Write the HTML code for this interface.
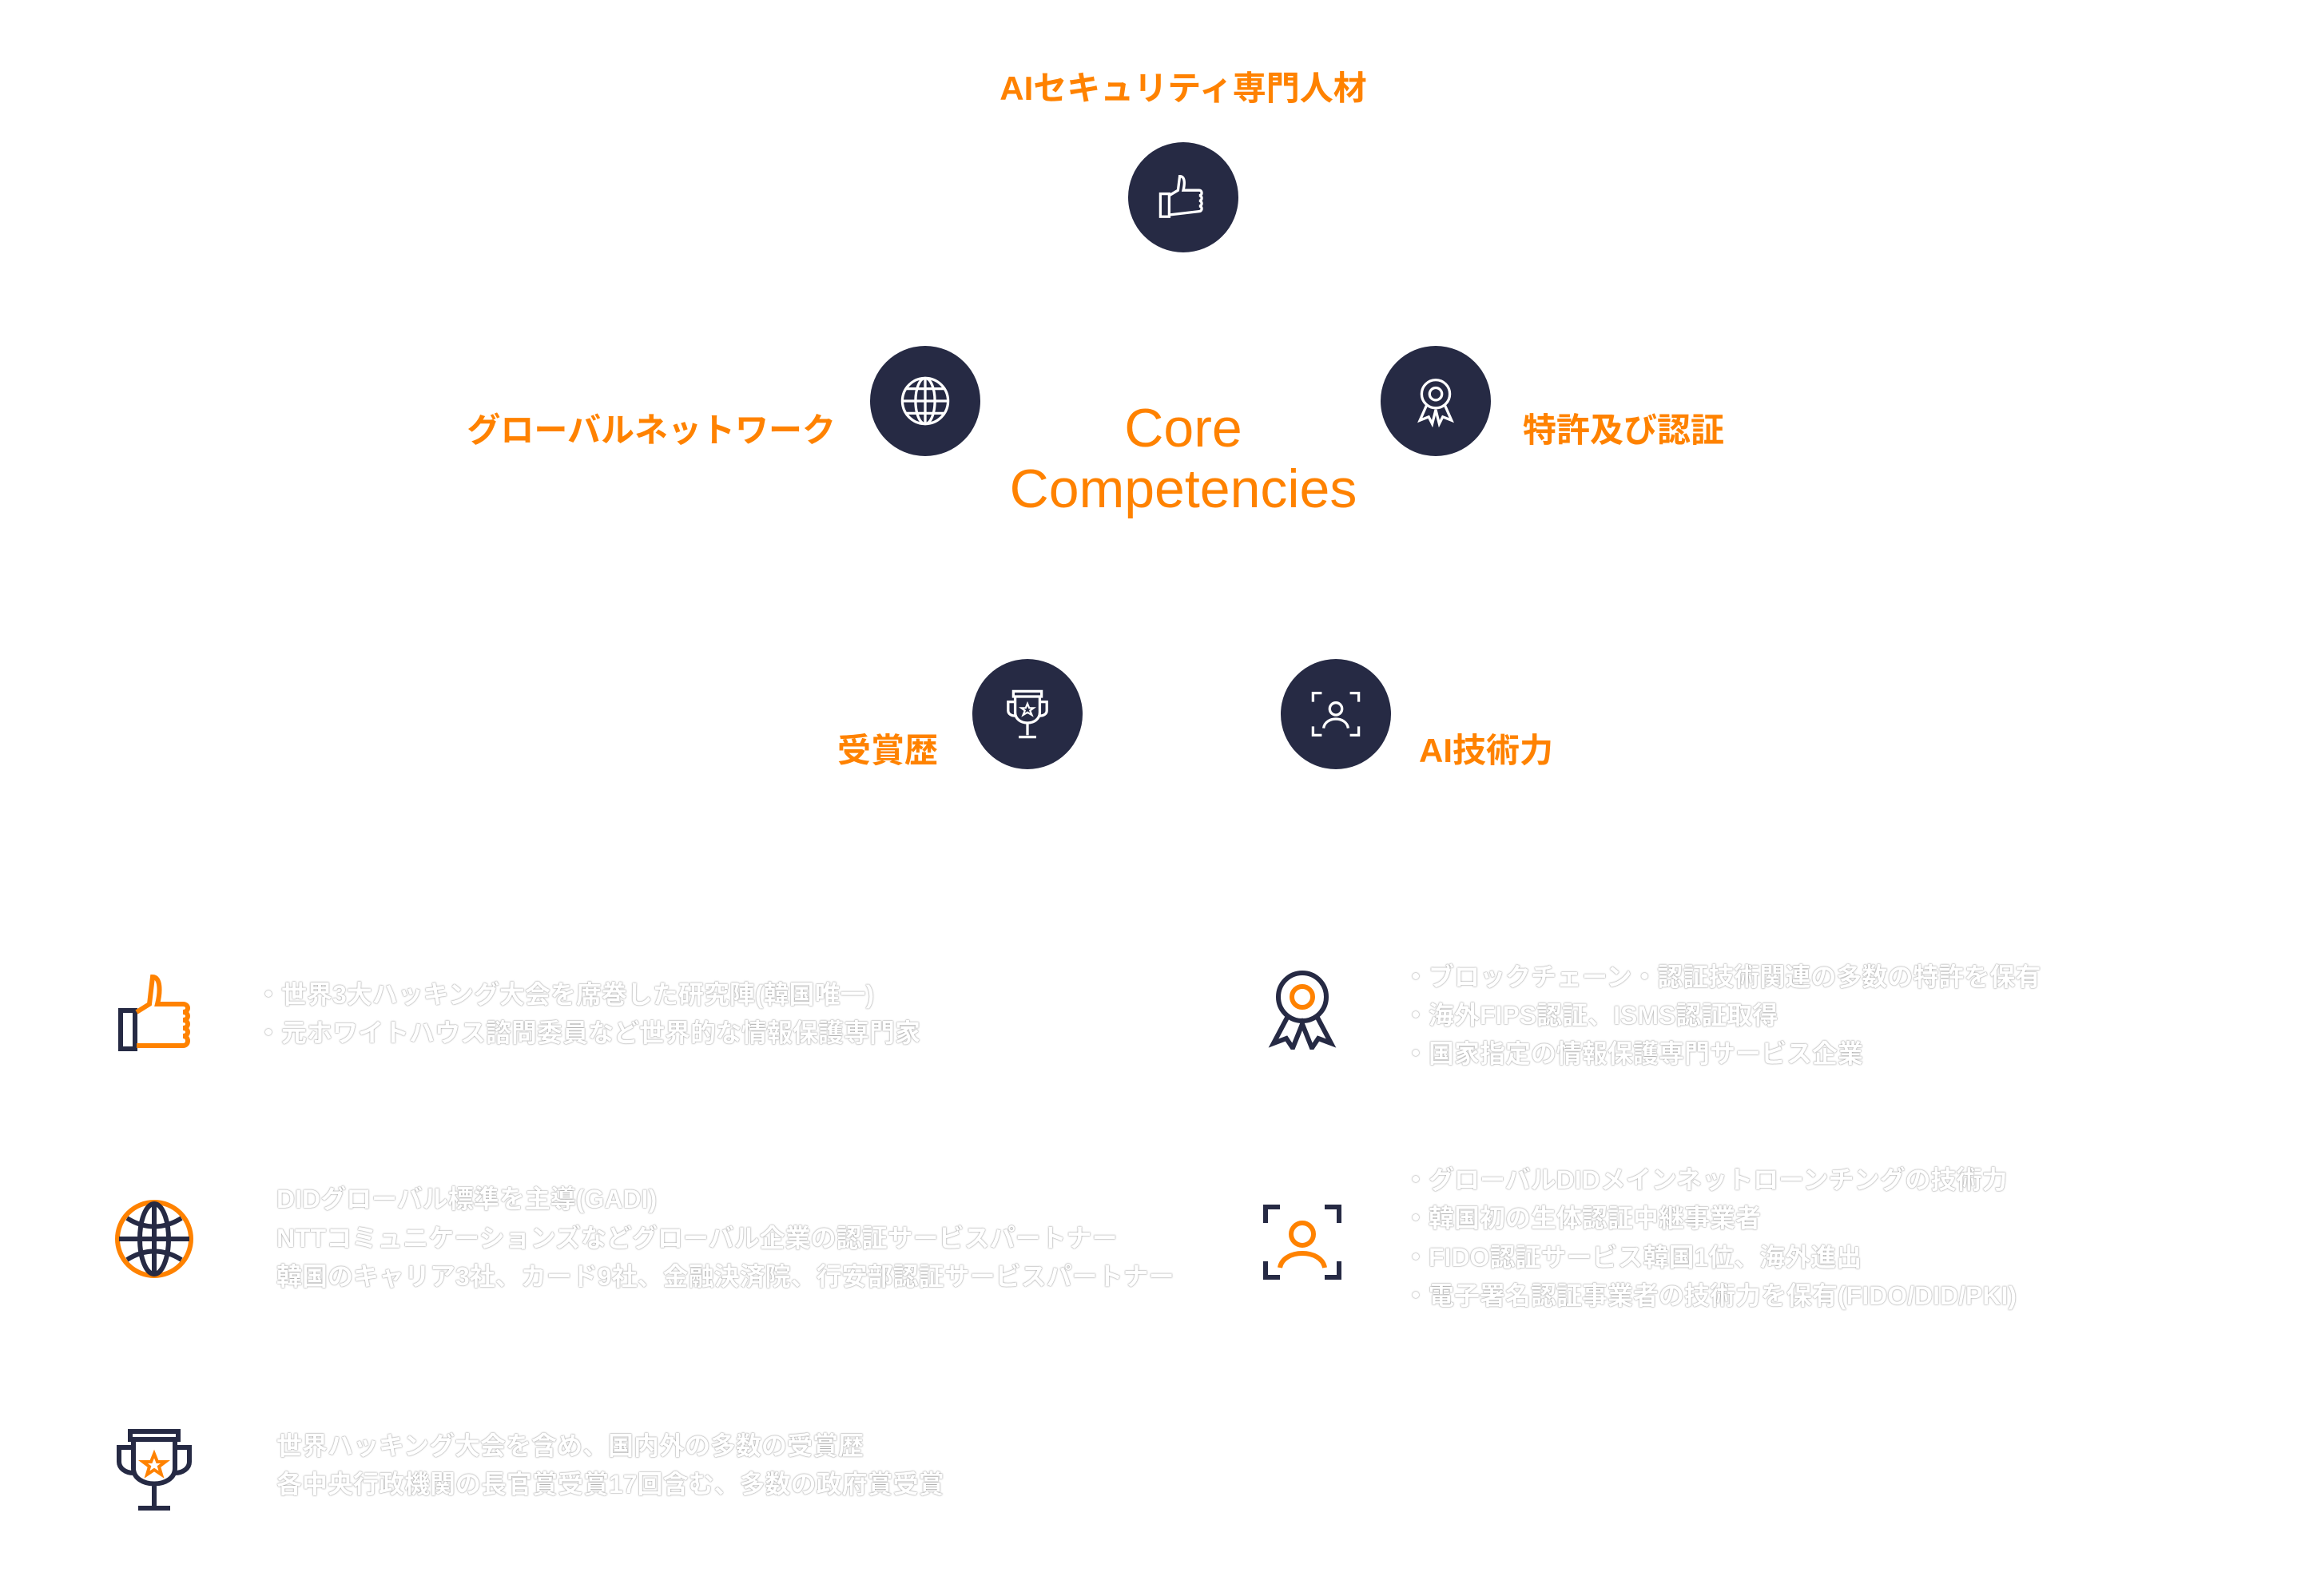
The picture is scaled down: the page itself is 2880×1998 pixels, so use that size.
<!DOCTYPE html>
<html><head><meta charset="utf-8"><style>
html,body{margin:0;padding:0;background:#fff;}
body{width:2880px;height:1998px;position:relative;overflow:hidden;font-family:"Liberation Sans","Noto Sans CJK JP",sans-serif;}
.c{position:absolute;width:138px;height:138px;border-radius:50%;background:#262a44;}
.c svg{position:absolute;left:36px;top:36px;width:66px;height:66px;}
.lb{position:absolute;color:#ff8200;font-weight:700;font-size:42px;line-height:1;white-space:nowrap;transform:translateY(-50%);}
.core{position:absolute;left:1131px;width:700px;text-align:center;color:#ff8200;font-size:68px;font-weight:300;line-height:76px;top:498px;}
.t{position:absolute;color:#fff;font-size:32px;line-height:48px;white-space:nowrap;text-shadow:0 0 1px #888,0 0 2px #aaa;font-weight:700;}
.ic{position:absolute;width:104px;height:104px;}
</style></head><body>

<div class="lb" style="left:1481px;top:111px;transform:translate(-50%,-50%)">AIセキュリティ専門人材</div>
<div class="lb" style="right:1834px;top:539px">グローバルネットワーク</div>
<div class="lb" style="left:1906px;top:539px">特許及び認証</div>
<div class="lb" style="right:1706px;top:940px">受賞歴</div>
<div class="lb" style="left:1776px;top:940px">AI技術力</div>
<div class="core">Core<br>Competencies</div>

<div class="c" style="left:1412px;top:178px"><svg viewBox="0 0 60 60" fill="none" stroke="#fff" stroke-width="3"><rect x="4" y="26" width="10" height="26"/><path d="M14 28 L24 22 L26 6 C32 6 32 14 30 22 L48 22 C52 22 52 28 48 28 C52 28 52 34 48 34 C52 34 52 40 48 40 C52 40 52 46 48 46 L14 50"/></svg></div>
<div class="c" style="left:1089px;top:433px"><svg viewBox="0 0 60 60" fill="none" stroke="#fff" stroke-width="3"><circle cx="30" cy="30" r="26"/><ellipse cx="30" cy="30" rx="11" ry="26"/><line x1="4" y1="30" x2="56" y2="30"/><line x1="30" y1="4" x2="30" y2="56"/><path d="M9 16 H51 M9 44 H51"/></svg></div>
<div class="c" style="left:1728px;top:433px"><svg viewBox="0 0 60 60" fill="none" stroke="#fff" stroke-width="3"><circle cx="30" cy="22" r="16"/><circle cx="30" cy="22" r="7"/><path d="M20 34 L12 52 L22 48 L26 56 L30 40 L34 56 L38 48 L48 52 L40 34"/></svg></div>
<div class="c" style="left:1217px;top:825px"><svg viewBox="0 0 60 60" fill="none" stroke="#fff" stroke-width="3"><rect x="14" y="4" width="32" height="6"/><path d="M16 10 V28 C16 44 44 44 44 28 V10 M16 16 H8 V26 C8 30 12 32 16 32 M44 16 H52 V26 C52 30 48 32 44 32 M30 40 V54 M20 56 H40"/><path d="M30 18 L32 23 L37 23 L33 26 L35 31 L30 28 L25 31 L27 26 L23 23 L28 23 Z" stroke-width="2"/></svg></div>
<div class="c" style="left:1603px;top:825px"><svg viewBox="0 0 60 60" fill="none" stroke="#fff" stroke-width="3"><path d="M4 16 V6 H14 M46 6 H56 V16 M4 44 V54 H14 M46 54 H56 V44"/><circle cx="30" cy="24" r="7"/><path d="M16 46 C18 32 42 32 44 46"/></svg></div>

<svg class="ic" style="left:141px;top:1217px" viewBox="0 0 104 104" fill="none" stroke-width="6"><rect x="10" y="48" width="18" height="48" stroke="#262a44"/><path d="M30 50 L46 40 L50 6 C60 6 60 24 56 40 L88 40 C96 40 96 50 88 50 C96 50 96 60 88 60 C96 60 96 70 88 70 C96 70 96 80 88 80 C96 80 96 92 88 92 L30 92" stroke="#ff8200"/></svg>
<div class="t" style="left:320px;top:1221px">・世界3大ハッキング大会を席巻した研究陣(韓国唯一)</div>
<div class="t" style="left:320px;top:1269px">・元ホワイトハウス諮問委員など世界的な情報保護専門家</div>

<svg class="ic" style="left:141px;top:1499px" viewBox="0 0 104 104" fill="none" stroke-width="6"><circle cx="52" cy="52" r="46" stroke="#ff8200"/><g stroke="#262a44"><ellipse cx="52" cy="52" rx="18" ry="44"/><line x1="8" y1="52" x2="96" y2="52"/><line x1="52" y1="8" x2="52" y2="96"/><path d="M18 26 C40 40 64 40 86 26 M18 78 C40 64 64 64 86 78"/></g></svg>
<div class="t" style="left:346px;top:1477px">DIDグローバル標準を主導(GADI)</div>
<div class="t" style="left:346px;top:1526px">NTTコミュニケーションズなどグローバル企業の認証サービスパートナー</div>
<div class="t" style="left:346px;top:1574px">韓国のキャリア3社、カード9社、金融決済院、行安部認証サービスパートナー</div>

<svg class="ic" style="left:141px;top:1788px" viewBox="0 0 104 104" fill="none" stroke-width="6"><g stroke="#262a44"><rect x="22" y="4" width="60" height="10"/><path d="M26 14 V50 C26 76 78 76 78 50 V14 M26 24 H8 V42 C8 50 16 56 26 56 M78 24 H96 V42 C96 50 88 56 78 56 M52 72 V98 M32 100 H72"/></g><path d="M52 32 L56 42 L66 42 L58 48 L61 58 L52 52 L43 58 L46 48 L38 42 L48 42 Z" stroke="#ff8200" stroke-width="4"/></svg>
<div class="t" style="left:346px;top:1786px">世界ハッキング大会を含め、国内外の多数の受賞歴</div>
<div class="t" style="left:346px;top:1834px">各中央行政機関の長官賞受賞17回含む、多数の政府賞受賞</div>

<svg class="ic" style="left:1578px;top:1210px" viewBox="0 0 104 104" fill="none" stroke-width="6"><circle cx="52" cy="38" r="30" stroke="#262a44"/><circle cx="52" cy="38" r="13" stroke="#ff8200"/><path d="M34 62 L16 96 L32 90 L40 102 L52 72 L64 102 L72 90 L88 96 L70 62" stroke="#262a44"/></svg>
<div class="t" style="left:1756px;top:1199px">・ブロックチェーン・認証技術関連の多数の特許を保有</div>
<div class="t" style="left:1756px;top:1247px">・海外FIPS認証、ISMS認証取得</div>
<div class="t" style="left:1756px;top:1295px">・国家指定の情報保護専門サービス企業</div>

<svg class="ic" style="left:1578px;top:1503px" viewBox="0 0 104 104" fill="none" stroke-width="6"><path d="M6 28 V8 H24 M80 8 H98 V28 M6 76 V96 H24 M80 96 H98 V76" stroke="#262a44"/><circle cx="52" cy="42" r="14" stroke="#ff8200"/><path d="M24 84 C28 60 76 60 80 84" stroke="#ff8200"/></svg>
<div class="t" style="left:1756px;top:1453px">・グローバルDIDメインネットローンチングの技術力</div>
<div class="t" style="left:1756px;top:1501px">・韓国初の生体認証中継事業者</div>
<div class="t" style="left:1756px;top:1550px">・FIDO認証サービス韓国1位、海外進出</div>
<div class="t" style="left:1756px;top:1598px">・電子署名認証事業者の技術力を保有(FIDO/DID/PKI)</div>

</body></html>
